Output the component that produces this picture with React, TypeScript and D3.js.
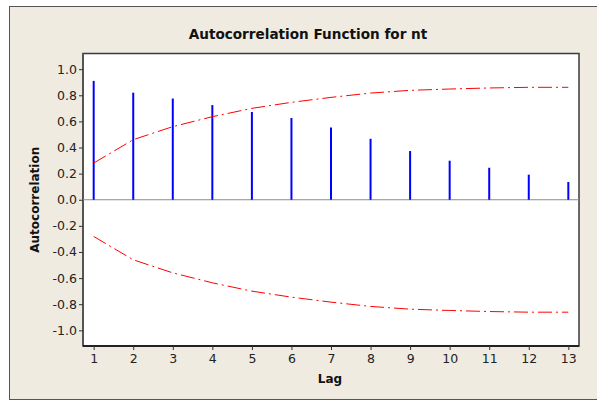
import React, { useEffect, useRef } from "react";
import * as d3 from "d3";

// values
const lags = [1, 2, 3, 4, 5, 6, 7, 8, 9, 10, 11, 12, 13];
const acf = [0.91, 0.82, 0.775, 0.725, 0.672, 0.626, 0.554, 0.467, 0.373, 0.299, 0.245, 0.192, 0.136];
const upperLimit = [0.281, 0.46, 0.56, 0.636, 0.70, 0.746, 0.784, 0.817, 0.838, 0.848, 0.856, 0.861, 0.861];
const yTicks = [-1.0, -0.8, -0.6, -0.4, -0.2, 0.0, 0.2, 0.4, 0.6, 0.8, 1.0];

export default function App() {
  const width = 597;
  const height = 401;
  const plotLeft = 83;
  const plotRight = 579;
  const plotTop = 53.5;
  const plotBottom = 346;

  const gx = useRef<SVGGElement>(null);
  const gy = useRef<SVGGElement>(null);

  const x = d3.scaleLinear([0.73, 13.27], [plotLeft, plotRight]);
  const y = d3.scaleLinear([-1.12, 1.12], [plotBottom, plotTop]);

  const line = d3
    .line<number>()
    .x((d, i) => x(lags[i]))
    .y((d) => y(d));

  useEffect(() => {
    const axisBottom = d3.axisBottom(x).tickValues(lags).tickFormat(d3.format("d")).tickSize(4).tickSizeOuter(0);
    const axisLeft = d3.axisLeft(y).tickValues(yTicks).tickFormat(d3.format(".1f")).tickSize(4).tickSizeOuter(0);

    const gX = d3.select(gx.current).call(axisBottom);
    gX.select(".domain").remove();
    gX.selectAll(".tick line").style("stroke", "#333");
    gX.selectAll(".tick text")
      .style("font-family", "DejaVu Sans")
      .style("font-size", "12.5px")
      .style("fill", "#222")
      .attr("y", 8);

    const gY = d3.select(gy.current).call(axisLeft);
    gY.select(".domain").remove();
    gY.selectAll(".tick line").style("stroke", "#333");
    gY.selectAll(".tick text")
      .text((d: any) => d3.format(".1f")(d).replace("−", "-"))
      .style("font-family", "DejaVu Sans")
      .style("font-size", "12.5px")
      .style("fill", "#222")
      .attr("x", -6);
  }, []);

  return (
    <svg width={width} height={height} style={{ position: "absolute", left: 0, top: 0 }}>
      <rect x={0} y={0} width={width} height={height} fill="#ffffff" />
      <rect x={9.5} y={6.5} width={width} height={393} fill="#efebe1" stroke="#555" strokeWidth={1} />
      <text
        x={308}
        y={39}
        textAnchor="middle"
        style={{ fontFamily: "DejaVu Sans", fontWeight: "bold", fontSize: "13.6px", fill: "#111" }}
      >
        Autocorrelation Function for nt
      </text>

      <rect x={plotLeft} y={plotTop} width={plotRight - plotLeft} height={plotBottom - plotTop} fill="#ffffff" stroke="#3a3a3a" strokeWidth={1.5} />
      <line x1={plotLeft} x2={plotLeft} y1={plotTop} y2={plotBottom} stroke="#555" strokeWidth={2} />
      <line x1={plotLeft} x2={plotRight} y1={plotBottom} y2={plotBottom} stroke="#222" strokeWidth={2} />

      <line x1={plotLeft} x2={plotRight} y1={y(0)} y2={y(0)} stroke="#8a8a8a" strokeWidth={1} />

      {acf.map((v, i) => (
        <line key={i} x1={x(lags[i])} x2={x(lags[i])} y1={y(0)} y2={y(v)} stroke="#0000ff" strokeWidth={2} />
      ))}

      <path d={line(upperLimit) ?? ""} fill="none" stroke="#ff0000" strokeWidth={1} strokeDasharray="14,4,2,4" />
      <path d={line(upperLimit.map((v) => -v)) ?? ""} fill="none" stroke="#ff0000" strokeWidth={1} strokeDasharray="14,4,2,4" />

      <g ref={gx} transform={`translate(0,${plotBottom})`} />
      <g ref={gy} transform={`translate(${plotLeft},0)`} />

      <text
        x={330}
        y={383}
        textAnchor="middle"
        style={{ fontFamily: "DejaVu Sans", fontWeight: "bold", fontSize: "12px", fill: "#111" }}
      >
        Lag
      </text>
      <text
        transform={`translate(39,${(plotTop + plotBottom) / 2}) rotate(-90)`}
        textAnchor="middle"
        style={{ fontFamily: "DejaVu Sans", fontWeight: "bold", fontSize: "12px", fill: "#111" }}
      >
        Autocorrelation
      </text>
    </svg>
  );
}
